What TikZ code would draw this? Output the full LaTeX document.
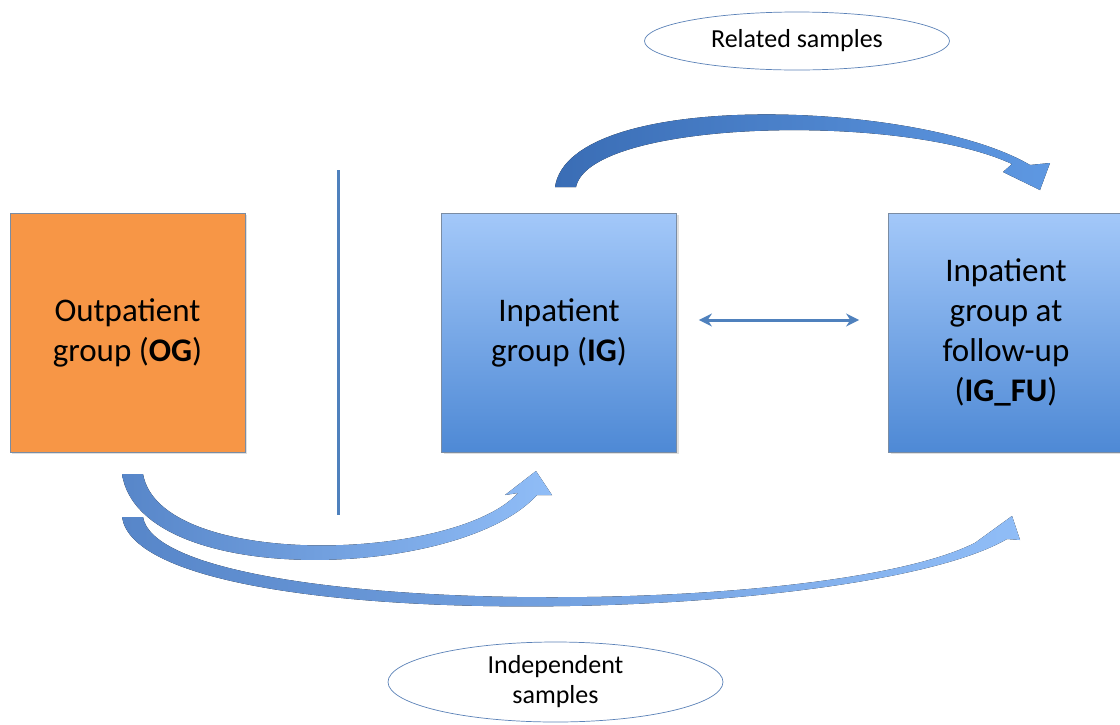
\documentclass[tikz,border=0pt]{standalone}
\usepackage{fontspec}
\setmainfont{Carlito}
\usetikzlibrary{shapes.geometric,arrows.meta,shadows}
\definecolor{ogorange}{HTML}{F79646}
\definecolor{lineblue}{HTML}{4F81BD}
\definecolor{boxtop}{HTML}{A3C8F9}
\definecolor{boxbot}{HTML}{4E89D5}
\definecolor{boxborder}{HTML}{7A8CA3}
\definecolor{ellborder}{HTML}{5B82B8}
\definecolor{arrdark}{HTML}{3A6DB5}
\definecolor{arrmid}{HTML}{4A84D0}
\definecolor{arrlight}{HTML}{5E98E2}
\definecolor{lowtail}{HTML}{5786C9}
\definecolor{lowmid}{HTML}{4A80CC}
\definecolor{lowhead}{HTML}{90BDF7}
\begin{document}
\begin{tikzpicture}[x=1pt,y=-1pt,
  box/.style={draw=boxborder, line width=0.8pt, minimum width=235pt, minimum height=239pt,
    align=center, inner sep=0pt, font=\fontsize{33}{40}\selectfont,
    drop shadow={shadow xshift=2pt, shadow yshift=-2pt, opacity=0.25}},
  bluebox/.style={box, top color=boxtop, bottom color=boxbot},
  ell/.style={ellipse, draw=ellborder, fill=white, line width=0.7pt, inner sep=0pt,
    align=center, font=\fontsize{26}{30}\selectfont},
  sep/.style={draw=lineblue, line width=3pt},
  dbl/.style={draw=lineblue, line width=3pt, {Stealth[length=13pt,width=13pt]}-{Stealth[length=13pt,width=13pt]}},
  toparrow/.style={left color=arrdark, middle color=arrmid, right color=arrlight},
  lowarrow/.style={left color=lowtail, middle color=lowmid, right color=lowhead}
]
\clip (0,0) rectangle (1120,724);
\fill[white] (0,0) rectangle (1120,724);

% boxes
\node[box, fill=ogorange] (OG) at (127.5,332.5) {Outpatient\\group (\textbf{OG})};
\node[bluebox] (IG) at (559,332.5) {Inpatient\\group (\textbf{IG})};
\node[bluebox] (IGFU) at (1006,332.5) {Inpatient\\group at\\follow-up\\(\textbf{IG\_FU})};

% separator
\coordinate (sepA) at (338,170);
\coordinate (sepB) at (338,515);
\draw[sep] (sepA) -- (sepB);

% double arrow between IG and IG_FU
\draw[dbl] ([xshift=22pt,yshift=12.5pt]IG.east) -- ([xshift=-29pt,yshift=12.5pt]IGFU.west);

% ellipses
\node[ell, minimum width=305pt, minimum height=58pt] (RS) at (797,41) {Related samples};
\node[ell, minimum width=335pt, minimum height=80pt] (IS) at (555.5,682) {Independent\\samples};

% top curved arrow IG -> IG_FU
\fill[toparrow] (555,187) .. controls (570,88) and (920,100) .. (1030,165)
  -- (1050,163) -- (1040,190) -- (1003,172) -- (1012,164)
  .. controls (900,112) and (590,120) .. (576,187) -- cycle;

% lower arrow OG -> IG
\fill[lowarrow] (122,474) .. controls (140,590) and (460,580) .. (537,495)
  -- (552,495) -- (536,471) -- (505,495) -- (518,493)
  .. controls (455,562) and (160,570) .. (143,474) -- cycle;

% lower arrow OG -> IG_FU
\fill[lowarrow] (122,517) .. controls (140,640) and (860,625) .. (1007,539)
  -- (1020,540) -- (1012,516) -- (972,545) -- (982,539)
  .. controls (845,620) and (160,620) .. (143,517) -- cycle;
\end{tikzpicture}
\end{document}
